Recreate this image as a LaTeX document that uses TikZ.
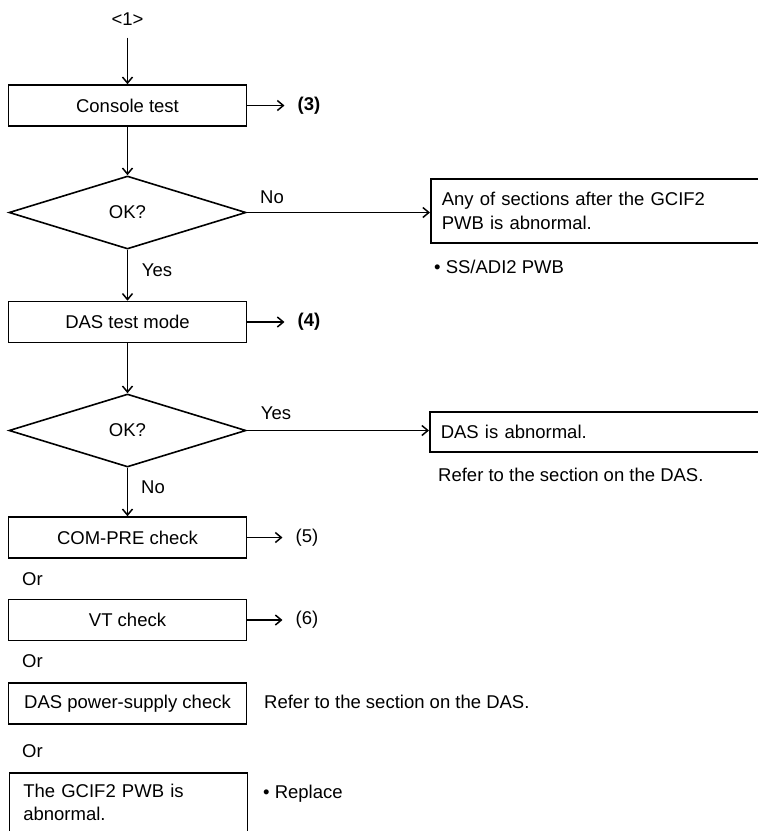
\documentclass[tikz,border=0pt]{standalone}
\usepackage{fontspec}
\setmainfont{Liberation Sans}
\usetikzlibrary{shapes.geometric,arrows.meta}
\begin{document}
\begin{tikzpicture}[x=1pt,y=-1pt,
  txt/.style={font=\fontsize{18.5}{23.5}\selectfont},
  boldtxt/.style={font=\fontsize{18.5}{23.5}\selectfont\bfseries},
  box/.style={txt,draw,line width=1.6pt,minimum width=238,minimum height=41,inner sep=0},
  dec/.style={txt,draw,diamond,line width=1.6pt,minimum width=237,minimum height=73,inner sep=0,aspect=3.25},
  widebox/.style={txt,draw,line width=1.6pt,anchor=west,align=left,inner ysep=0},
  conn/.style={line width=1.5pt,-{Straight Barb[length=6pt,width=10pt]}},
  refl/.style={inner xsep=13pt,inner ysep=2pt},
  lbl/.style={txt,inner sep=0},
]
\useasboundingbox (0,0) rectangle (758,831);
\fill[white] (0,0) rectangle (758,831);
\clip (0,0) rectangle (758,831);

% main column
\node[txt,inner sep=12pt] (s1) at (127.5,19) {<1>};
\node[box] (console) at (127.5,105.5) {Console test};
\node[dec] (d1) at (127.5,212.5) {OK?};
\node[box] (das) at (127.5,322) {DAS test mode};
\node[dec] (d2) at (127.5,430.5) {OK?};
\node[box] (com) at (127.5,537.5) {COM-PRE check};
\node[lbl,anchor=west] (or1) at (22,579) {Or};
\node[box] (vt) at (127.5,620) {VT check};
\node[lbl,anchor=west] (or2) at (22,661) {Or};
\node[box] (psu) at (127.5,703.5) {DAS power-supply check};
\node[lbl,anchor=west] (or3) at (22,751) {Or};
\node[txt,draw,line width=1.6pt,anchor=north west,minimum width=238,
      text width=210,align=left,inner xsep=14pt,inner ysep=11pt] (gcif)
      at (8.5,772) {The GCIF2 PWB is\\abnormal.\\ \mbox{}};

% references to the right
\node[boldtxt,refl] (r3) at (309,105.5) {(3)};
\node[boldtxt,refl] (r4) at (309,322) {(4)};
\node[txt,refl] (r5) at (307,537.5) {(5)};
\node[txt,refl] (r6) at (307,620) {(6)};

% right hand boxes
\node[widebox,minimum width=345,minimum height=64,text width=323,inner xsep=11pt] (b1)
      at (430,211) {Any of sections after the GCIF2\\PWB is abnormal.};
\node[lbl,anchor=west] (n1) at (434,267) {\textbullet\ SS/ADI2 PWB};
\node[widebox,minimum width=345,minimum height=40,text width=323,inner xsep=11pt] (b2)
      at (429,432) {DAS is abnormal.};
\node[lbl,anchor=west] (n2) at (438,475) {Refer to the section on the DAS.};
\node[lbl,anchor=west] (n3) at (264,702) {Refer to the section on the DAS.};
\node[lbl,anchor=west] (n4) at (263,794) {\textbullet\ Replace};

% branch labels
\node[lbl] (no1) at (272,197) {No};
\node[lbl] (yes1) at (157,270) {Yes};
\node[lbl] (yes2) at (276,413) {Yes};
\node[lbl] (no2) at (153,487) {No};

% connectors
\draw[conn] (s1) -- (console);
\draw[conn] (console) -- (d1);
\draw[conn] (d1) -- (das);
\draw[conn] (das) -- (d2);
\draw[conn] (d2) -- (com);
\draw[conn] (console.east) -- (r3.west);
\draw[conn] (das.east) -- (r4.west);
\draw[conn] (com.east) -- (r5.west);
\draw[conn] (vt.east) -- (r6.west);
\draw[conn] (d1.east) -- (d1.east -| b1.west);
\draw[conn] (d2.east) -- (d2.east -| b2.west);
\end{tikzpicture}
\end{document}
